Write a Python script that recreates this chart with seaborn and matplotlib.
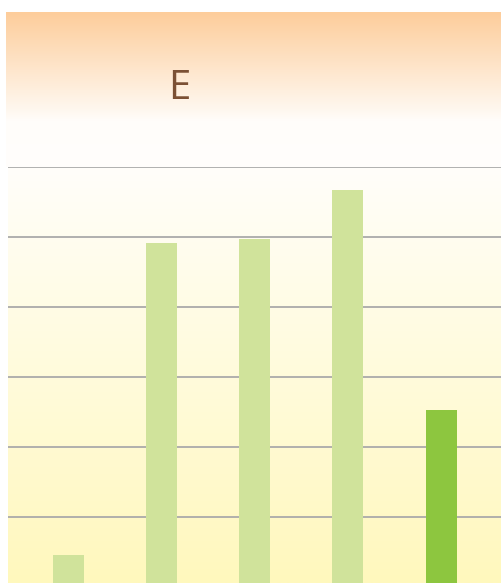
import numpy as np
import pandas as pd
import seaborn as sns
import matplotlib.pyplot as plt
from matplotlib.colors import LinearSegmentedColormap

# data
categories = ["A", "B", "C", "D", "E"]
values = [0.46, 4.91, 4.97, 5.67, 2.53]
highlight = ["no", "no", "no", "no", "yes"]
title = "E"

df = pd.DataFrame({"cat": categories, "val": values, "hl": highlight})

sns.set_theme(style="white")
plt.rcParams["font.family"] = ["Open Sans", "DejaVu Sans"]

fig = plt.figure(figsize=(5.01, 5.83), dpi=100)
W, H = 501, 583

# header band with orange -> white gradient
hdr = fig.add_axes([6 / W, (H - 167) / H, (W - 6) / W, 155 / H])
hdr_cmap = LinearSegmentedColormap.from_list(
    "hdr", [(0, "#fffefc"), (0.3, "#fffdfa"), (0.36, "#fff8f0"), (1, "#fdcd9b")])
grad = np.linspace(0, 1, 256).reshape(-1, 1)
hdr.imshow(grad, cmap=hdr_cmap, aspect="auto", origin="lower", extent=[0, 1, 0, 1])
hdr.set_axis_off()
hdr.text(173 / (W - 6), (167 - 89) / 155, title, transform=hdr.transAxes,
         ha="center", va="center", fontsize=29, color="#7b5034")

# main plot
ax = fig.add_axes([8 / W, 0, (W - 8) / W, (H - 167) / H])
bg_cmap = LinearSegmentedColormap.from_list("bg", ["#fff8bd", "#fffefa"])
ax.imshow(grad, cmap=bg_cmap, aspect="auto", origin="lower",
          extent=[0, 1, 0, 1], transform=ax.transAxes, zorder=0)

sns.barplot(data=df, x="cat", y="val", hue="hl",
            palette={"no": "#d0e39b", "yes": "#8dc63f"},
            dodge=False, width=0.332, legend=False, ax=ax,
            saturation=1, edgecolor="none", linewidth=0)

ax.set_ylim(0.057, 6)
ax.set_xlim(-0.644, 4.64)
ax.set_yticks([1, 2, 3, 4, 5, 6])
ax.grid(axis="y", color="#aaaaaa", linewidth=1.3)
ax.set_axisbelow(True)
for b in ax.patches:
    b.set_zorder(3)
ax.set_xticks([])
ax.set_yticklabels([])
ax.tick_params(left=False, bottom=False)
ax.set_xlabel("")
ax.set_ylabel("")
for s in ax.spines.values():
    s.set_visible(False)

fig.savefig("out.png", dpi=100, facecolor="white")
